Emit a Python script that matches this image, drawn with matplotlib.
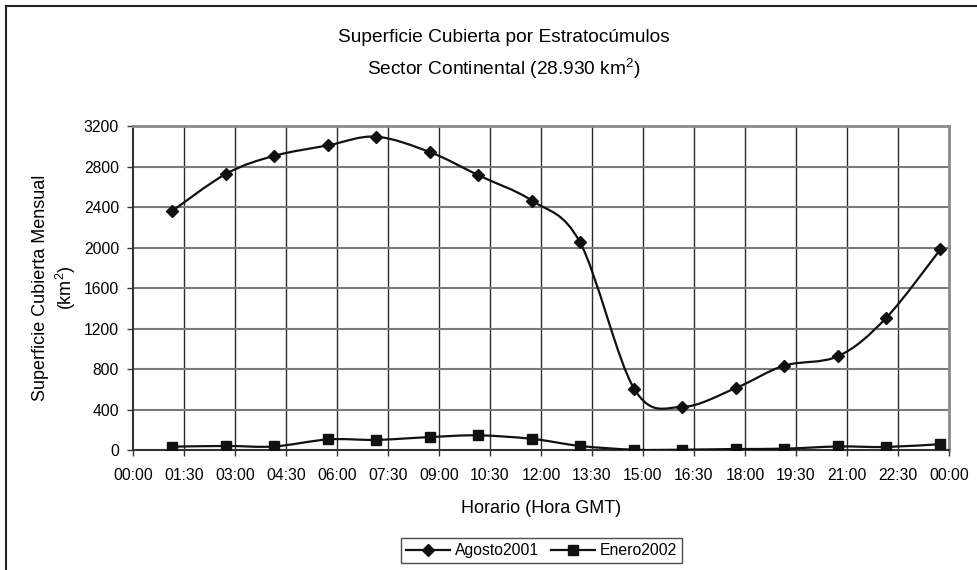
import numpy as np
import matplotlib
matplotlib.use("Agg")
import matplotlib.pyplot as plt
from matplotlib.path import Path
from matplotlib.patches import PathPatch
from matplotlib.lines import Line2D

plt.rcParams['font.family'] = ['Liberation Sans', 'DejaVu Sans']
plt.rcParams['mathtext.fontset'] = 'custom'
plt.rcParams['mathtext.rm'] = 'Liberation Sans'

## data (hora GMT en horas decimales)
horas = [1.15, 2.75, 4.15, 5.75, 7.15, 8.75, 10.15, 11.75,
         13.15, 14.75, 16.15, 17.75, 19.15, 20.75, 22.15, 23.75]
agosto2001 = [2360, 2730, 2905, 3010, 3095, 2940, 2715, 2460,
              2050, 600, 425, 615, 833, 928, 1304, 1982]
enero2002 = [33, 40, 35, 105, 100, 128, 145, 110,
             40, 3, 3, 10, 13, 35, 30, 58]
tick_labels = ["00:00", "01:30", "03:00", "04:30", "06:00", "07:30", "09:00",
               "10:30", "12:00", "13:30", "15:00", "16:30", "18:00", "19:30",
               "21:00", "22:30", "00:00"]
y_ticks = [0, 400, 800, 1200, 1600, 2000, 2400, 2800, 3200]


def smoothPath(x, y):
    # bezier como el suavizado de excel
    pts = np.column_stack([x, y]).astype(float)
    n = len(pts)
    verts = [pts[0]]
    codes = [Path.MOVETO]
    for i in range(n - 1):
        p0 = pts[i - 1] if i > 0 else pts[i]
        p1 = pts[i]
        p2 = pts[i + 1]
        p3 = pts[i + 2] if i + 2 < n else pts[i + 1]
        c1 = p1 + (p2 - p0) / 6.0
        c2 = p2 - (p3 - p1) / 6.0
        verts += [c1, c2, p2]
        codes += [Path.CURVE4] * 3
    return Path(verts, codes)


fig = plt.figure(figsize=(9.77, 5.70), dpi=100)
ax = fig.add_axes([0.1361, 0.2105, 0.8352, 0.5684])

for yy, mk, ms in [(agosto2001, 'D', 6), (enero2002, 's', 7.5)]:
    ax.add_patch(PathPatch(smoothPath(horas, yy), fill=False,
                           edgecolor='#111111', linewidth=1.6, zorder=3))
    ax.plot(horas, yy, linestyle='none', marker=mk, markersize=ms,
            color='#111111', zorder=4)

ax.set_xlim(0, 24)
ax.set_ylim(0, 3200)
ax.set_xticks(np.arange(0, 24.01, 1.5))
ax.set_xticklabels(tick_labels)
ax.set_yticks(y_ticks)
ax.tick_params(labelsize=11.3, length=4, width=1, color='#333333', pad=6)
ax.tick_params(axis='x', pad=9)

# Creating grid
for xv in np.arange(1.5, 24, 1.5):
    ax.axvline(xv, color='#2a2a2a', linewidth=1, zorder=1)
for yv in y_ticks[1:-1]:
    ax.axhline(yv, color='#7a7a7a', linewidth=1.5, zorder=1)

for s in ['top', 'right']:
    ax.spines[s].set_color('#8a8a8a')
    ax.spines[s].set_linewidth(2)
for s in ['left', 'bottom']:
    ax.spines[s].set_color('#333333')
    ax.spines[s].set_linewidth(1.5)

# Labeling axis
ax.set_xlabel('Horario (Hora GMT)', fontsize=13, labelpad=12)
ax.set_ylabel('Superficie Cubierta Mensual\n(km$^{2}$)', fontsize=13,
              labelpad=4, multialignment='center', linespacing=1.3)

fig.text(0.5155, 0.935, 'Superficie Cubierta por Estratocúmulos',
         ha='center', va='center', fontsize=13.8)
fig.text(0.5155, 0.88, 'Sector Continental (28.930 km$^{2}$)',
         ha='center', va='center', fontsize=13.8)

handles = [Line2D([], [], color='#111111', linewidth=1.6, marker='D', markersize=6),
           Line2D([], [], color='#111111', linewidth=1.6, marker='s', markersize=7)]
fig.legend(handles, ['Agosto2001', 'Enero2002'], loc='center',
           bbox_to_anchor=(0.5545, 0.034), ncol=2, fontsize=11.3, frameon=True,
           fancybox=False, edgecolor='#222222', handlelength=2.8,
           columnspacing=0.8, handletextpad=0.3, borderpad=0.3)

# marco exterior
fig.add_artist(Line2D([6 / 977, 1], [1 - 6 / 570, 1 - 6 / 570], color='#222222', linewidth=1.5))
fig.add_artist(Line2D([6 / 977, 6 / 977], [0, 1 - 6 / 570], color='#222222', linewidth=1.5))

fig.savefig('out.png', dpi=100)
